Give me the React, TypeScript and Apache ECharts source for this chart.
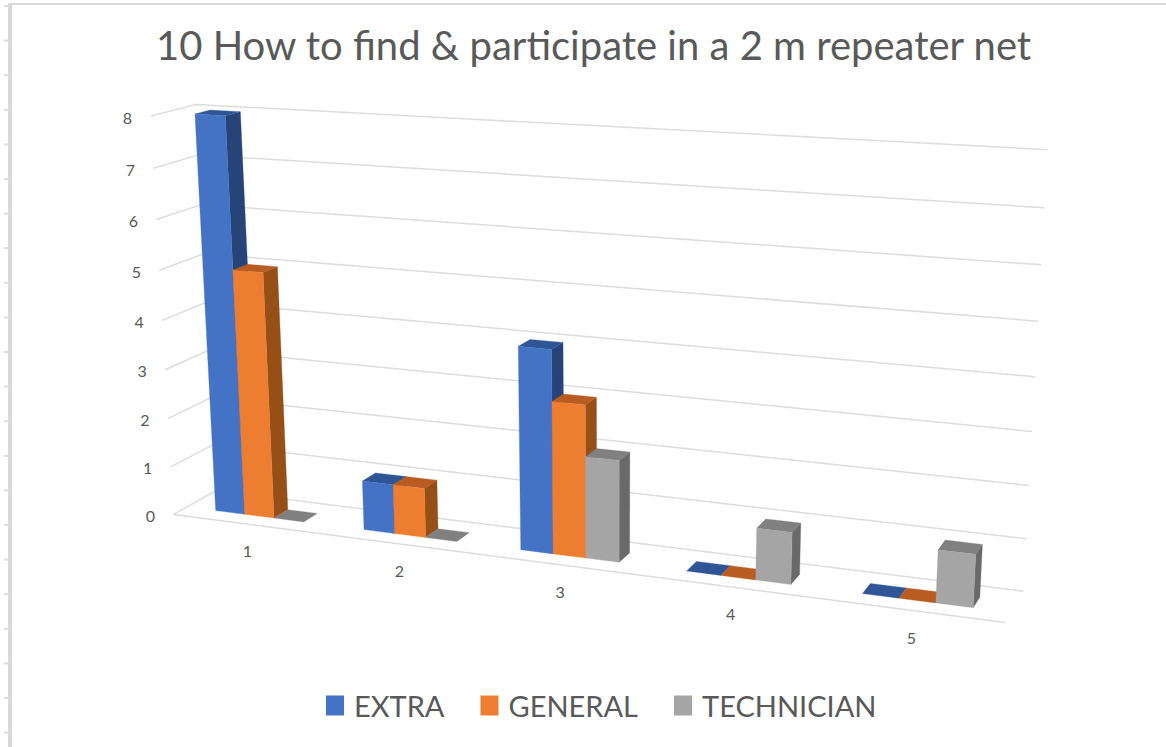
import React, { useEffect, useRef } from "react";
import * as echarts from "echarts";

const titleText = "10 How to find & participate in a 2 m repeater net";
const categories = ["1", "2", "3", "4", "5"];
const valueTicks = [0, 1, 2, 3, 4, 5, 6, 7, 8];
const extra = [8, 1, 4, 0, 0];
const general = [5, 1, 3, 0, 0];
const technician = [0, 0, 2, 1, 1];

const FONT = "Lato, 'Noto Sans', sans-serif";
const TEXT = "#595959";
const GRID = "#dcdcdc";

// Camera calibration of the tilted plot box: [x, y, depth] -> picture position.
const X_MAX = 5;
const Y_MAX = 8;
const BAR_W = 0.2;
const MARGIN = 0.2;
const Z0 = 0.31;
const Z1 = 0.65;
const calibration: number[][] = [
  [0, 0, 0, 173, 515],
  [5, 0, 0, 1006, 623],
  [0, 8, 0, 150, 115],
  [0, 0, 1, 216, 490],
  [5, 0, 1, 1025, 591],
  [0, 8, 1, 195, 105],
  [5, 8, 1, 1047, 150],
  [0.2, 0, 0.31, 217, 511],
  [0.2, 8, 0.31, 196, 114],
  [2.2, 0, 0.31, 521, 550],
  [2.2, 4, 0.31, 520, 347],
  [2.8, 0, 0.31, 616, 562],
  [4.8, 0, 0.31, 972, 607],
];

function solveCamera(): number[] {
  const n = 11;
  const A: number[][] = Array.from({ length: n }, () => new Array(n + 1).fill(0));
  const add = (row: number[], rhs: number) => {
    for (let i = 0; i < n; i++) {
      for (let j = 0; j < n; j++) A[i][j] += row[i] * row[j];
      A[i][n] += row[i] * rhs;
    }
  };
  for (const [x, y, z, u0, v0] of calibration) {
    const X = x / X_MAX, Y = y / Y_MAX, u = u0 / 1000, v = v0 / 1000;
    add([X, Y, z, 1, 0, 0, 0, 0, -u * X, -u * Y, -u * z], u);
    add([0, 0, 0, 0, X, Y, z, 1, -v * X, -v * Y, -v * z], v);
  }
  for (let c = 0; c < n; c++) {
    let p = c;
    for (let r = c + 1; r < n; r++) if (Math.abs(A[r][c]) > Math.abs(A[p][c])) p = r;
    [A[c], A[p]] = [A[p], A[c]];
    for (let r = 0; r < n; r++) {
      if (r === c) continue;
      const f = A[r][c] / A[c][c];
      for (let k = c; k <= n; k++) A[r][k] -= f * A[c][k];
    }
  }
  return A.map((row, i) => row[n] / row[i]);
}
const cam = solveCamera();

// Goes through the hidden axes: data -> axis pixel -> axis fraction -> picture.
function projector(params: any, api: any) {
  const cs = params.coordSys;
  return (x: number, y: number, z: number): number[] => {
    const [px, py] = api.coord([x, y]);
    const X = (px - cs.x) / cs.width;
    const Y = (cs.y + cs.height - py) / cs.height;
    const w = cam[8] * X + cam[9] * Y + cam[10] * z + 1;
    return [
      ((cam[0] * X + cam[1] * Y + cam[2] * z + cam[3]) / w) * 1000,
      ((cam[4] * X + cam[5] * Y + cam[6] * z + cam[7]) / w) * 1000,
    ];
  };
}

const poly = (points: number[][], fill: string) => ({
  type: "polygon",
  shape: { points },
  style: { fill, stroke: fill, lineWidth: 0.3 },
  silent: true,
});

const barSeries = (
  name: string,
  values: number[],
  slot: number,
  front: string,
  top: string,
  side: string
) => ({
  type: "custom",
  name,
  itemStyle: { color: front },
  data: values.map((v, i) => [i, v]),
  encode: { x: 0, y: 1 },
  z: 3 + slot,
  silent: true,
  renderItem: (params: any, api: any) => {
    const P = projector(params, api);
    const x0 = api.value(0) + MARGIN + slot * BAR_W;
    const x1 = x0 + BAR_W;
    const v = api.value(1);
    const children: any[] = [];
    if (v > 0) {
      children.push(poly([P(x1, 0, Z0), P(x1, 0, Z1), P(x1, v, Z1), P(x1, v, Z0)], side));
    }
    children.push(poly([P(x0, v, Z0), P(x1, v, Z0), P(x1, v, Z1), P(x0, v, Z1)], top));
    if (v > 0) {
      children.push(poly([P(x0, 0, Z0), P(x1, 0, Z0), P(x1, v, Z0), P(x0, v, Z0)], front));
    }
    return { type: "group", children };
  },
});

export default function App() {
  const ref = useRef<HTMLDivElement>(null);
  useEffect(() => {
    document.body.style.margin = "0";
    const chart = echarts.init(ref.current!, undefined, { renderer: "svg" });
    const rulerTicks = Array.from({ length: 22 }, (_, i) => ({
      type: "rect",
      shape: { x: 4, y: 5 + i * 34.6, width: 5, height: 2 },
      style: { fill: "#dcdcdc" },
      silent: true,
    }));
    chart.setOption({
      animation: false,
      backgroundColor: "#ffffff",
      title: {
        text: titleText,
        left: 151,
        top: 20,
        textStyle: { fontFamily: FONT, fontWeight: "normal", fontSize: 40, color: TEXT },
      },
      legend: {
        data: ["EXTRA", "GENERAL", "TECHNICIAN"],
        left: 321,
        top: 686,
        icon: "rect",
        itemWidth: 18,
        itemHeight: 20,
        itemGap: 36,
        selectedMode: false,
        textStyle: { fontFamily: FONT, fontSize: 29, color: TEXT, padding: [0, 0, 0, 5] },
      },
      grid: { left: 100, top: 100, width: 900, height: 500 },
      xAxis: { type: "value", min: 0, max: X_MAX, show: false },
      yAxis: { type: "value", min: 0, max: Y_MAX, show: false },
      graphic: [
        {
          type: "rect",
          shape: { x: 8, y: 3, width: 4, height: 744 },
          style: { fill: "#d9d9d9" },
          silent: true,
        },
        {
          type: "rect",
          shape: { x: 8, y: 3, width: 1158, height: 2 },
          style: { fill: "#d9d9d9" },
          silent: true,
        },
        ...rulerTicks,
      ],
      series: [
        {
          type: "custom",
          name: "walls",
          data: valueTicks.map((v) => [0, v]),
          encode: { x: 0, y: 1 },
          z: 1,
          silent: true,
          renderItem: (params: any, api: any) => {
            const P = projector(params, api);
            const v = api.value(1);
            const children: any[] = [
              {
                type: "polyline",
                shape: { points: [P(0, v, 0), P(0, v, 1), P(X_MAX, v, 1)] },
                style: { stroke: GRID, lineWidth: 1.5, fill: null },
                silent: true,
              },
            ];
            if (v === 0) {
              children.push({
                type: "line",
                shape: {
                  x1: P(0, 0, 0)[0],
                  y1: P(0, 0, 0)[1],
                  x2: P(X_MAX, 0, 0)[0],
                  y2: P(X_MAX, 0, 0)[1],
                },
                style: { stroke: GRID, lineWidth: 1.5 },
                silent: true,
              });
            }
            return { type: "group", children };
          },
        },
        {
          type: "custom",
          name: "valueLabels",
          data: valueTicks.map((v) => [0, v]),
          encode: { x: 0, y: 1 },
          z: 2,
          silent: true,
          renderItem: (params: any, api: any) => {
            const P = projector(params, api);
            const v = api.value(1);
            const [x, y] = P(0, v, 0);
            return {
              type: "text",
              silent: true,
              style: {
                x: x - 23,
                y: y + 1,
                text: String(v),
                textAlign: "center",
                textVerticalAlign: "middle",
                fill: TEXT,
                fontSize: 16,
                fontFamily: FONT,
              },
            };
          },
        },
        {
          type: "custom",
          name: "categoryLabels",
          data: categories.map((c, i) => [i, 0]),
          encode: { x: 0, y: 1 },
          z: 2,
          silent: true,
          renderItem: (params: any, api: any) => {
            const P = projector(params, api);
            const i = api.value(0);
            const [x, y] = P(i + 0.5, 0, 0);
            return {
              type: "text",
              silent: true,
              style: {
                x: x + 1,
                y: y + 27,
                text: categories[i],
                textAlign: "center",
                textVerticalAlign: "middle",
                fill: TEXT,
                fontSize: 16,
                fontFamily: FONT,
              },
            };
          },
        },
        barSeries("EXTRA", extra, 0, "#4472C4", "#2F5597", "#264478"),
        barSeries("GENERAL", general, 1, "#ED7D31", "#B85C22", "#954F17"),
        barSeries("TECHNICIAN", technician, 2, "#A5A5A5", "#808080", "#696969"),
      ],
    });
    return () => chart.dispose();
  }, []);
  return <div ref={ref} style={{ width: 1166, height: 747 }} />;
}
